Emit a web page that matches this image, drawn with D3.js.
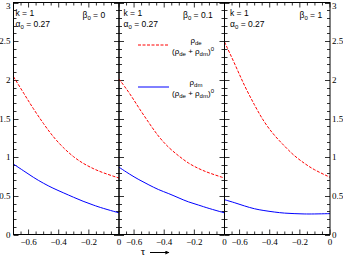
<!DOCTYPE html>
<html>
<head>
<meta charset="utf-8">
<script src="https://cdn.jsdelivr.net/npm/d3@7"></script>
<style>
  body { margin: 0; background: #fff; }
  svg { display: block; }
</style>
</head>
<body>
<div id="chart"></div>
<script>
// sample points along tau (same for all panels)
const tau = [-0.7, -0.63, -0.57, -0.5, -0.44, -0.37, -0.3, -0.24, -0.17, -0.11, 0];
const betaLabels = ["0", "0.1", "1"];
// rho_de / (rho_de + rho_dm)_0
const deBeta0 = [2.04, 1.82, 1.63, 1.43, 1.27, 1.12, 1.00, 0.92, 0.85, 0.80, 0.73];
const deBeta01 = [2.01, 1.83, 1.64, 1.44, 1.27, 1.12, 1.01, 0.92, 0.85, 0.80, 0.73];
const deBeta1 = [2.49, 2.20, 1.93, 1.67, 1.46, 1.28, 1.14, 1.02, 0.92, 0.84, 0.74];
// rho_dm / (rho_de + rho_dm)_0
const dmBeta0 = [0.91, 0.82, 0.74, 0.66, 0.60, 0.54, 0.48, 0.43, 0.38, 0.34, 0.28];
const dmBeta01 = [0.87, 0.78, 0.71, 0.64, 0.58, 0.53, 0.47, 0.42, 0.38, 0.34, 0.28];
const dmBeta1 = [0.45, 0.41, 0.37, 0.33, 0.31, 0.29, 0.275, 0.27, 0.265, 0.265, 0.27];
const xTickLabels = [-0.6, -0.4, -0.2, 0];
const yTickLabels = [0, 0.5, 1, 1.5, 2, 2.5, 3];

const panels = [
  {beta: betaLabels[0], de: deBeta0, dm: dmBeta0},
  {beta: betaLabels[1], de: deBeta01, dm: dmBeta01},
  {beta: betaLabels[2], de: deBeta1, dm: dmBeta1}
];
// where the in-panel notes sit, px from panel's left edge
const noteLeft = [2, 4.5, 5.5];
const betaLeft = [69, 64, 75];

const W = 343, H = 256;
const plotLeft = 13.5, plotRight = 330, plotTop = 2.5, plotBottom = 234.5;
const pw = (plotRight - plotLeft) / 3;

const svg = d3.select("#chart").append("svg")
  .attr("width", W)
  .attr("height", H);

const y = d3.scaleLinear().domain([0, 3]).range([plotBottom, plotTop]);
const serif = "'Liberation Serif', 'DejaVu Serif', serif";
const sans = "'Liberation Sans', Arial, sans-serif";

panels.forEach((p, i) => {
  const x0 = plotLeft + i * pw;
  const x = d3.scaleLinear().domain([-0.7, 0]).range([x0, x0 + pw]);
  const g = svg.append("g");

  // ticks, inward on all four sides
  const yMinor = d3.range(0, 3.001, 0.1);
  const xMinor = d3.range(-0.65, 0.001, 0.05);
  const isMajorY = v => Math.abs(v * 2 - Math.round(v * 2)) < 1e-6;
  const isMajorX = v => Math.abs(v * 5 - Math.round(v * 5)) < 1e-6;

  g.selectAll("line.yl").data(yMinor).enter().append("line")
    .attr("x1", x0).attr("x2", d => x0 + (isMajorY(d) ? 5 : 3))
    .attr("y1", d => Math.round(y(d)) + 0.5).attr("y2", d => Math.round(y(d)) + 0.5)
    .attr("stroke", "#000").attr("stroke-width", 0.8);
  g.selectAll("line.yr").data(yMinor).enter().append("line")
    .attr("x1", x0 + pw).attr("x2", d => x0 + pw - (isMajorY(d) ? 5 : 3))
    .attr("y1", d => Math.round(y(d)) + 0.5).attr("y2", d => Math.round(y(d)) + 0.5)
    .attr("stroke", "#000").attr("stroke-width", 0.8);
  g.selectAll("line.xb").data(xMinor).enter().append("line")
    .attr("x1", d => x(d)).attr("x2", d => x(d))
    .attr("y1", plotBottom).attr("y2", d => plotBottom - (isMajorX(d) ? 5 : 3))
    .attr("stroke", "#000").attr("stroke-width", 0.8);
  g.selectAll("line.xt").data(xMinor).enter().append("line")
    .attr("x1", d => x(d)).attr("x2", d => x(d))
    .attr("y1", plotTop).attr("y2", d => plotTop + (isMajorX(d) ? 5 : 3))
    .attr("stroke", "#000").attr("stroke-width", 0.8);

  // curves
  const line = d3.line()
    .x((d, j) => x(tau[j]))
    .y(d => y(d))
    .curve(d3.curveBasis);
  g.append("path").attr("d", line(p.de))
    .attr("fill", "none").attr("stroke", "#ff0000")
    .attr("stroke-width", 1).attr("stroke-dasharray", "3,1.5");
  g.append("path").attr("d", line(p.dm))
    .attr("fill", "none").attr("stroke", "#0000ff")
    .attr("stroke-width", 1);

  // frame
  g.append("rect")
    .attr("x", x0).attr("y", plotTop)
    .attr("width", pw).attr("height", plotBottom - plotTop)
    .attr("fill", "none").attr("stroke", "#000").attr("stroke-width", 1);

  // x tick labels
  g.selectAll("text.xt").data(xTickLabels).enter().append("text")
    .attr("x", d => x(d)).attr("y", 244.5)
    .attr("text-anchor", "middle")
    .attr("font-family", serif).attr("font-size", 9)
    .text(d => d === 0 ? "0" : d3.format(".1f")(d));

  // annotations
  g.append("text").attr("x", x0 + noteLeft[i]).attr("y", 16)
    .attr("font-family", sans).attr("font-size", 8.5).text("k = 1");
  const a = g.append("text").attr("x", x0 + noteLeft[i]).attr("y", 27)
    .attr("font-family", sans).attr("font-size", 8.5);
  a.append("tspan").text("α");
  a.append("tspan").attr("dy", 2).attr("font-size", 6).text("0");
  a.append("tspan").attr("dy", -2).text(" = 0.27");
  const b = g.append("text").attr("x", x0 + betaLeft[i]).attr("y", 18)
    .attr("font-family", sans).attr("font-size", 8.5);
  b.append("tspan").text("β");
  b.append("tspan").attr("dy", 2).attr("font-size", 6).text("0");
  b.append("tspan").attr("dy", -2).text(" = " + p.beta);
});

// y tick labels, left and right (top label nudged down to stay visible)
const yLabelPos = d => d === 3 ? y(d) + 6 : y(d) + 3;
svg.selectAll("text.yl").data(yTickLabels).enter().append("text")
  .attr("x", 10.5).attr("y", yLabelPos)
  .attr("text-anchor", "end")
  .attr("font-family", serif).attr("font-size", 9)
  .text(d => d);
svg.selectAll("text.yr").data(yTickLabels).enter().append("text")
  .attr("x", 332).attr("y", yLabelPos)
  .attr("font-family", serif).attr("font-size", 9)
  .text(d => d);

// legend (middle panel)
const legend = [
  {name: "de", color: "#ff0000", dash: "3,1.5", ly: 45},
  {name: "dm", color: "#0000ff", dash: null, ly: 87}
];
legend.forEach(l => {
  svg.append("line")
    .attr("x1", 138).attr("x2", 169).attr("y1", l.ly).attr("y2", l.ly)
    .attr("stroke", l.color).attr("stroke-width", 1)
    .attr("stroke-dasharray", l.dash);
  const num = svg.append("text").attr("x", 196).attr("y", l.ly - 2.5)
    .attr("text-anchor", "middle").attr("font-family", sans).attr("font-size", 8);
  num.append("tspan").text("ρ");
  num.append("tspan").attr("dy", 2).attr("font-size", 6).text(l.name);
  const den = svg.append("text").attr("x", 193).attr("y", l.ly + 9)
    .attr("text-anchor", "middle").attr("font-family", sans).attr("font-size", 8);
  den.append("tspan").text("(ρ");
  den.append("tspan").attr("dy", 2).attr("font-size", 6).text("de");
  den.append("tspan").attr("dy", -2).text(" + ρ");
  den.append("tspan").attr("dy", 2).attr("font-size", 6).text("dm");
  den.append("tspan").attr("dy", -2).text(")");
  den.append("tspan").attr("dy", -3).attr("font-size", 6).text("0");
});

// tau axis label with arrow
svg.append("defs").append("marker")
  .attr("id", "arr").attr("viewBox", "0 0 10 10")
  .attr("refX", 9).attr("refY", 5)
  .attr("markerWidth", 6).attr("markerHeight", 4)
  .attr("orient", "auto")
  .append("path").attr("d", "M0,0L10,5L0,10z").attr("fill", "#000");
svg.append("text").attr("x", 143).attr("y", 255)
  .attr("text-anchor", "middle")
  .attr("font-family", serif).attr("font-size", 11).text("τ");
svg.append("line")
  .attr("x1", 150).attr("x2", 169).attr("y1", 252.5).attr("y2", 252.5)
  .attr("stroke", "#000").attr("stroke-width", 1)
  .attr("marker-end", "url(#arr)");
</script>
</body>
</html>
